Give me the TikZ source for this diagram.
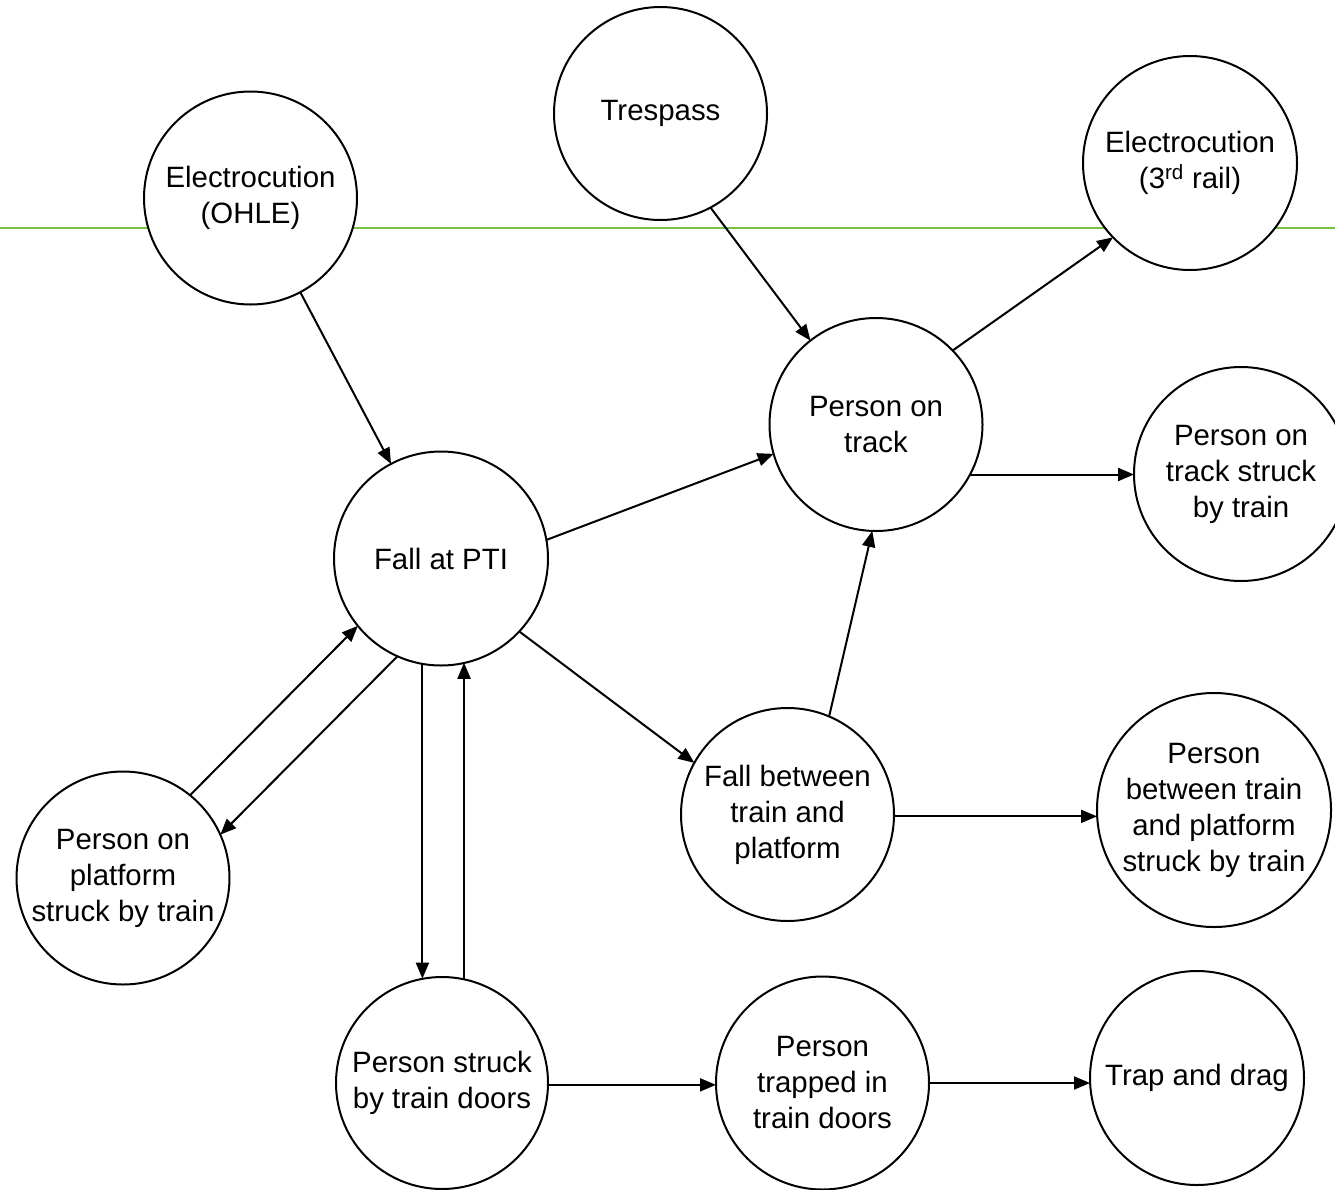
\documentclass[tikz,border=0pt]{standalone}
\usepackage{fontspec}
\setmainfont{Liberation Sans}
\usetikzlibrary{arrows.meta}
\definecolor{railgreen}{RGB}{122,193,66}
\begin{document}
\begin{tikzpicture}[x=1pt,y=-1pt,
  state/.style={circle,draw=black,line width=2pt,fill=white,
    minimum size=213pt,inner sep=0pt,outer sep=0pt,align=center,
    font=\fontsize{29.4}{36}\selectfont},
  arr/.style={line width=2pt,-{Triangle[length=16pt,width=13pt]}},
  ]
\useasboundingbox (0,0) rectangle (1335,1189);
\clip (0,0) rectangle (1335,1189);

% horizontal green rule behind the circles
\draw[railgreen,line width=2pt] (0,228) -- (1335,228);

% events
\node[state] (ohle) at (250.5,198) {Electrocution\\(OHLE)};
\node[state] (tres) at (660.5,113.5) {Trespass};
\node[state,minimum size=214pt] (rail) at (1190,163) {Electrocution\\(3\textsuperscript{rd} rail)};
\node[state] (track) at (876,424.5) {Person on\\track};
\node[state,minimum size=214pt] (ptrack) at (1241,474) {Person on\\track struck\\by train};
\node[state,minimum size=214pt] (pti) at (441,558.5) {Fall at PTI};
\node[state] (fbtp) at (787.5,814.5) {Fall between\\train and\\platform};
\node[state,minimum size=234pt] (pbtp) at (1214,810) {Person\\between train\\and platform\\struck by train};
\node[state] (plat) at (123,878) {Person on\\platform\\struck by train};
\node[state,minimum size=212pt] (doors) at (442,1083) {Person struck\\by train doors};
\node[state] (trapped) at (822.5,1083) {Person\\trapped in\\train doors};
\node[state,minimum size=214pt] (trap) at (1197,1078) {Trap and drag};

% connectors
\draw[arr] (ohle) -- (pti);
\draw[arr] (tres.-62) -- (track.128);
\draw[arr] (pti.10.5) -- (track.196);
\draw[arr] (track.44) -- (rail.-136);
\draw[arr] (track.-28.6) -- (ptrack.west |- track.-28.6);
\draw[arr] (pti.-43.5) -- (fbtp.151.4);
\draw[arr] (fbtp.67.4) -- (track.-92);
\draw[arr] (fbtp.-1) -- (pbtp.west |- fbtp.-1);
\draw[arr] (plat.51.4) -- (pti.219.2);
\draw[arr] (pti.-114) -- (plat.24.9);
\draw[arr] (pti.-100) -- (pti.-100 |- doors.100);
\draw[arr] (doors.78) -- (doors.78 |- pti.-77.6);
\draw[arr] (doors.-1) -- (trapped.west |- doors.-1);
\draw[arr] (trapped.east) -- (trap.west |- trapped.east);
\end{tikzpicture}
\end{document}
